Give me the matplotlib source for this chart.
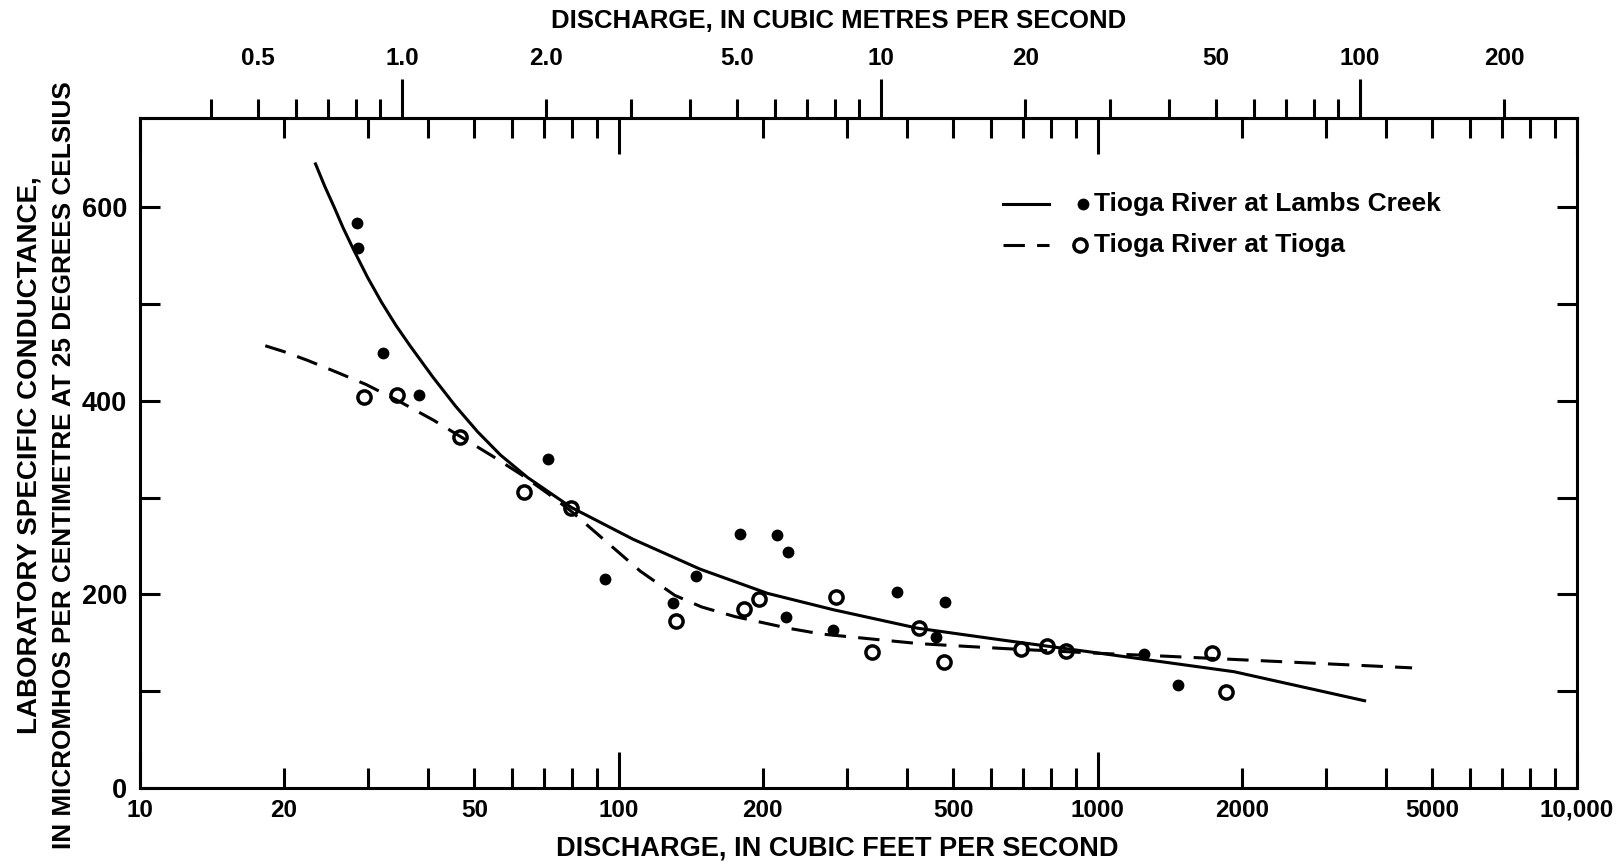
import matplotlib

matplotlib.use("Agg")
import numpy as np
import matplotlib.pyplot as plt
from matplotlib.ticker import FixedLocator, FuncFormatter, LogLocator, NullFormatter

plt.rcParams["font.family"] = ["Liberation Sans", "DejaVu Sans"]
plt.rcParams["font.weight"] = "bold"

# Tioga River at Lambs Creek (filled dots): discharge (ft3/s), conductance
lambs_q = [28.5, 28.6, 32.2, 38.4, 71.1, 93.5, 130, 145, 179, 214, 226, 224, 280, 382, 481, 460, 1251, 1472]
lambs_c = [584, 558, 450, 406, 340, 216, 191, 219, 262, 261, 244, 177, 163, 202, 192, 156, 138, 106]

# Tioga River at Tioga (open circles)
tioga_q = [29.4, 34.5, 46.7, 63.6, 79.6, 131.5, 182.5, 196, 284, 338, 424, 479, 693, 786, 860, 1737, 1858]
tioga_c = [404, 406, 363, 306, 289, 172, 185, 195, 197, 140, 165, 130, 143, 147, 141, 139, 99]

# hand-drawn curves
lambs_curve_q = [23.3, 24.35, 25.5, 26.6, 28.0, 29.9, 32.0, 34.3, 36.7, 40.9, 45.6, 50.8, 56.7, 64.5,
                 79.6, 107.2, 148.1, 204.7, 281.3, 421, 627, 1015, 1928, 3609]
lambs_curve_c = [645, 622, 600, 579, 556, 528, 502, 478, 457, 425, 395, 368, 344, 321,
                 290, 257, 226, 201, 184, 165, 153, 139, 120, 90]
tioga_curve_q = [18.3, 20.0, 22.4, 25.7, 29.7, 35.0, 41.1, 47.9, 54.5, 63.0, 71.3, 79.6, 91.5, 111,
                 131, 149, 175, 226, 265, 335, 425, 636, 1010, 1395, 4535]
tioga_curve_c = [457, 451, 442, 430, 417, 399, 380, 360, 343, 323, 304, 286, 260, 224,
                 199, 187, 177, 165, 159, 154, 149, 144, 139, 136, 124]

cfs_labels = [10, 20, 50, 100, 200, 500, 1000, 2000, 5000, 10000]
cms_labels = [0.5, 1.0, 2.0, 5.0, 10, 20, 50, 100, 200]
cms_minor = [0.4, 0.5, 0.6, 0.7, 0.8, 0.9, 2, 3, 4, 5, 6, 7, 8, 9,
             20, 30, 40, 50, 60, 70, 80, 90, 200]
CFS_TO_CMS = 0.0283168

LW = 2.2
DASH = (0, (7, 4))

fig = plt.figure(figsize=(16.21, 8.64), dpi=100)
ax = fig.add_axes([0.0861, 0.0882, 0.8865, 0.7758])
ax.set_xscale("log")
ax.set_xlim(10, 10000)
ax.set_ylim(0, 693)

ax.plot(lambs_curve_q, lambs_curve_c, "-", color="black", lw=LW)
ax.plot(tioga_curve_q, tioga_curve_c, color="black", lw=LW, ls=DASH)
ax.plot(lambs_q, lambs_c, "o", color="black", ms=8.5, mew=0)
ax.plot(tioga_q, tioga_c, "o", mfc="none", mec="black", ms=9.5, mew=2.5)


def cfs_fmt(v, pos):
    v = round(v)
    if v not in cfs_labels:
        return ""
    return "10,000" if v == 10000 else f"{v}"


def cms_fmt(v, pos):
    for lab in cms_labels:
        if abs(v - lab) < 1e-6 * lab:
            return f"{lab:.1f}" if lab < 10 else f"{lab:.0f}"
    return ""


ax.xaxis.set_major_locator(FixedLocator([10, 100, 1000, 10000]))
ax.xaxis.set_minor_locator(LogLocator(base=10, subs=np.arange(2, 10), numticks=20))
ax.xaxis.set_major_formatter(FuncFormatter(cfs_fmt))
ax.xaxis.set_minor_formatter(FuncFormatter(cfs_fmt))
ax.tick_params(axis="x", which="both", direction="in", top=True, bottom=True,
               width=LW, labelsize=17.5, pad=8, labeltop=False)
ax.tick_params(axis="x", which="major", length=26)
ax.tick_params(axis="x", which="minor", length=14.5)

ax.yaxis.set_major_locator(FixedLocator([0, 200, 400, 600]))
ax.yaxis.set_minor_locator(FixedLocator([100, 300, 500]))
ax.yaxis.set_minor_formatter(NullFormatter())
ax.tick_params(axis="y", which="both", direction="in", left=True, right=True,
               length=14.5, width=LW, labelsize=19.5, pad=9)

for sp in ax.spines.values():
    sp.set_linewidth(LW)

sec = ax.secondary_xaxis("top", functions=(lambda q: q * CFS_TO_CMS, lambda m: m / CFS_TO_CMS))
sec.xaxis.set_major_locator(FixedLocator([1, 10, 100]))
sec.xaxis.set_minor_locator(FixedLocator(cms_minor))
sec.xaxis.set_major_formatter(FuncFormatter(cms_fmt))
sec.xaxis.set_minor_formatter(FuncFormatter(cms_fmt))
sec.tick_params(which="both", direction="out", width=LW, labelsize=17.5)
sec.tick_params(which="major", length=28, pad=6)
sec.tick_params(which="minor", length=14, pad=20)
sec.spines["top"].set_linewidth(LW)

# legend
ax.plot([0.601, 0.633], [0.871, 0.871], transform=ax.transAxes, color="black", lw=LW)
ax.plot([0.601, 0.633], [0.810, 0.810], transform=ax.transAxes, color="black", lw=LW, ls=DASH)
ax.plot([0.6566], [0.871], "o", transform=ax.transAxes, color="black", ms=8.5, mew=0)
ax.plot([0.6545], [0.810], "o", transform=ax.transAxes, mfc="none", mec="black", ms=9.5, mew=2.5)
ax.text(0.6642, 0.871, "Tioga River at Lambs Creek", transform=ax.transAxes, va="center", ha="left", fontsize=19)
ax.text(0.6642, 0.810, "Tioga River at Tioga", transform=ax.transAxes, va="center", ha="left", fontsize=19)

fig.text(0.5163, 0.0185, "DISCHARGE, IN CUBIC FEET PER SECOND", ha="center", va="center", fontsize=19.5)
fig.text(0.5176, 0.9757, "DISCHARGE, IN CUBIC METRES PER SECOND", ha="center", va="center", fontsize=18.5)
fig.text(0.0179, 0.4734, "LABORATORY SPECIFIC CONDUCTANCE,", rotation=90, ha="center", va="center", fontsize=20)
fig.text(0.0395, 0.462, "IN MICROMHOS PER CENTIMETRE AT 25 DEGREES CELSIUS", rotation=90,
         ha="center", va="center", fontsize=18.8)

fig.savefig("out.png", dpi=100, facecolor="white")
